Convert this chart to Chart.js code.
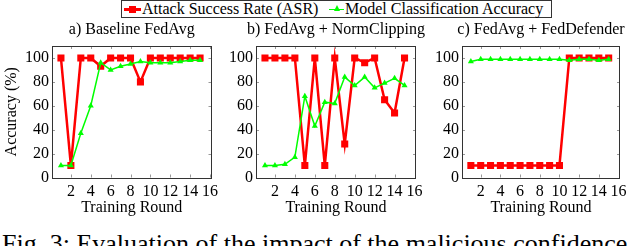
<!DOCTYPE html>
<html>
<head>
<meta charset="utf-8">
<script src="https://cdn.jsdelivr.net/npm/chart.js@4.4.0/dist/chart.umd.min.js"></script>
<style>
  body { margin: 0; width: 640px; height: 246px; overflow: hidden; background: #fff; position: relative;
         font-family: "Liberation Serif", "DejaVu Serif", serif; color: #000; }
  canvas { position: absolute; top: 0; }
  .ttl { position: absolute; top: 21px; font-size: 16px; line-height: 16px; white-space: nowrap; transform: translateX(-50%); }
  #legend { position: absolute; left: 121px; top: 0; width: 429px; height: 16px; border: 1px solid #333; font-size: 16px; line-height: 16px; }
  #legend span { position: absolute; white-space: nowrap; }
  .ln { position: absolute; }
  #caption { position: absolute; left: 2px; top: 231px; font-size: 26px; line-height: 26px; white-space: nowrap; }
</style>
</head>
<body>
<div id="legend">
  <div class="ln" style="left:2px;top:7px;width:17px;height:2.5px;background:#f00"></div>
  <div class="ln" style="left:7px;top:5px;width:7px;height:7px;background:#f00"></div>
  <span style="left:20px;top:0">Attack Success Rate (ASR)</span>
  <div class="ln" style="left:207px;top:7.5px;width:15px;height:1.5px;background:#0f0"></div>
  <div class="ln" style="left:212px;top:4px;width:0;height:0;border-left:3.5px solid transparent;border-right:3.5px solid transparent;border-bottom:6px solid #0f0"></div>
  <span style="left:223px;top:0">Model Classification Accuracy</span>
</div>
<div id="caption">Fig. 3: Evaluation of the impact of the malicious confidence</div>

<script>
// --- Data ---
const rounds = [1, 2, 3, 4, 5, 6, 7, 8, 9, 10, 11, 12, 13, 14, 15];
const xTicks = [2, 4, 6, 8, 10, 12, 14, 16];
const yTicks = [0, 20, 40, 60, 80, 100];

const asrA = [100, 10, 100, 100, 93, 100, 100, 100, 80, 100, 100, 100, 100, 100, 100];
const accA = [10, 10, 37, 60, 96, 90, 93, 95, 97, 96, 96, 96, 97, 98, 98];

const asrB = [100, 100, 100, 100, 10, 100, 10, 100, 28, 100, 96, 100, 65, 54, 100];
const accB = [10, 10, 11, 17, 68, 43, 63, 62, 84, 77, 84, 75, 79, 83, 77];

const asrC = [10, 10, 10, 10, 10, 10, 10, 10, 10, 10, 100, 100, 100, 100, 100];
const accC = [97, 99, 99, 99, 99, 99, 99, 99, 99, 99, 98, 99, 99, 98, 99];

const titles = ["a) Baseline FedAvg", "b) FedAvg + NormClipping", "c) FedAvg + FedDefender"];

// --- Panel placement ---
const panels = [
  { canvasLeft: 0,   areaLeft: 52,  areaRight: 211.5, asr: asrA, acc: accA, yTitle: true },
  { canvasLeft: 205, areaLeft: 256, areaRight: 416,   asr: asrB, acc: accB, yTitle: false },
  { canvasLeft: 410, areaLeft: 462, areaRight: 620,   asr: asrC, acc: accC, yTitle: false },
];
const CW = 230, CH = 220, AREA_TOP = 46, AREA_BOTTOM = 177.5;
const FONT = { family: '"Liberation Serif", serif', size: 16 };

// frame + inward tick marks like pgfplots
const framePlugin = {
  id: "frame",
  afterDraw(chart) {
    const { ctx, chartArea: { left, right, top, bottom }, scales: { x, y } } = chart;
    ctx.save();
    ctx.strokeStyle = "#999";
    ctx.lineWidth = 1;
    ctx.beginPath();
    xTicks.forEach(v => {
      const px = Math.round(x.getPixelForValue(v)) + 0.5;
      ctx.moveTo(px, bottom); ctx.lineTo(px, bottom - 3);
      ctx.moveTo(px, top); ctx.lineTo(px, top + 3);
    });
    yTicks.forEach(v => {
      const py = Math.round(y.getPixelForValue(v)) + 0.5;
      ctx.moveTo(left, py); ctx.lineTo(left + 3, py);
      ctx.moveTo(right, py); ctx.lineTo(right - 3, py);
    });
    ctx.stroke();
    ctx.strokeStyle = "#333";
    ctx.strokeRect(Math.round(left) + 0.5, Math.round(top) + 0.5, Math.round(right - left) - 1, Math.round(bottom - top));
    ctx.restore();
  }
};

const toPoints = vals => rounds.map((r, i) => ({ x: r, y: vals[i] }));

panels.forEach((p, idx) => {
  const cv = document.createElement("canvas");
  cv.width = CW; cv.height = CH;
  cv.style.left = p.canvasLeft + "px";
  document.body.appendChild(cv);

  const t = document.createElement("div");
  t.className = "ttl";
  t.textContent = titles[idx];
  t.style.left = ((p.areaLeft + p.areaRight) / 2) + "px";
  document.body.appendChild(t);

  new Chart(cv.getContext("2d"), {
    type: "line",
    data: {
      datasets: [
        {
          label: "Attack Success Rate (ASR)",
          data: toPoints(p.asr),
          borderColor: "#ff0000", backgroundColor: "#ff0000",
          borderWidth: 2.5, pointStyle: "rect", pointRadius: 5, pointBorderWidth: 0,
          tension: 0, order: 1
        },
        {
          label: "Model Classification Accuracy",
          data: toPoints(p.acc),
          borderColor: "#00ff00", backgroundColor: "#00ff00",
          borderWidth: 1.5, pointStyle: "triangle", pointRadius: 3.5, pointBorderWidth: 0,
          tension: 0, order: 0
        }
      ]
    },
    options: {
      responsive: false,
      animation: false,
      layout: { padding: { left: 0, top: AREA_TOP, right: p.canvasLeft + CW - p.areaRight, bottom: 0 } },
      plugins: { legend: { display: false }, tooltip: { enabled: false } },
      scales: {
        x: {
          type: "linear", min: 0.1, max: 16.15,
          afterBuildTicks: s => { s.ticks = xTicks.map(v => ({ value: v })); },
          afterFit: s => { s.height = CH - AREA_BOTTOM; },
          grid: { display: false, drawTicks: false },
          border: { display: false },
          ticks: { color: "#000", font: FONT, padding: 5, maxRotation: 0, autoSkip: false },
          title: { display: true, text: "Training Round", color: "#000", font: FONT, padding: { top: 0, bottom: 3 } }
        },
        y: {
          type: "linear", min: 0, max: 110,
          afterBuildTicks: s => { s.ticks = yTicks.map(v => ({ value: v })); },
          afterFit: s => { s.width = p.areaLeft - p.canvasLeft; },
          grid: { display: false, drawTicks: false },
          border: { display: false },
          ticks: { color: "#000", font: FONT, padding: 3 },
          title: { display: p.yTitle, text: "Accuracy (%)", color: "#000", font: FONT, padding: { top: 2, bottom: 0 } }
        }
      }
    },
    plugins: [framePlugin]
  });
});
</script>
</body>
</html>
